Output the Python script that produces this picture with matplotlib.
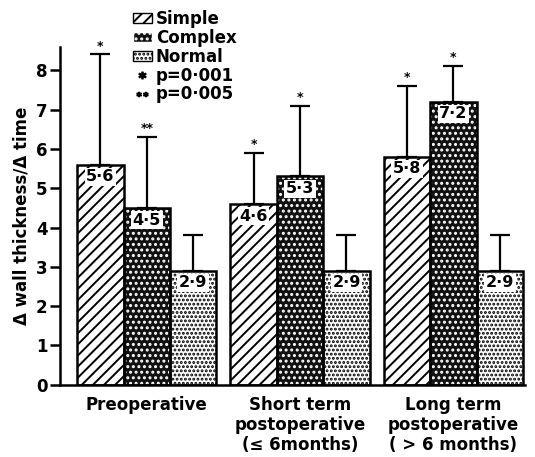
import numpy as np
import matplotlib
matplotlib.use('Agg')
import matplotlib.pyplot as plt
from matplotlib.patches import Patch
from matplotlib.lines import Line2D

# Data
groups = ['Preoperative', 'Short term\npostoperative\n(≤ 6months)', 'Long term\npostoperative\n( > 6 months)']
series = ['Simple', 'Complex', 'Normal']
simple = [5.6, 4.6, 5.8]
complex_ = [4.5, 5.3, 7.2]
normal = [2.9, 2.9, 2.9]
simple_err = [2.8, 1.3, 1.8]
complex_err = [1.8, 1.8, 0.9]
normal_err = [0.9, 0.9, 0.9]
simple_sig = ['*', '*', '*']
complex_sig = ['**', '*', '*']
normal_sig = ['', '', '']
value_labels = [['5·6', '4·6', '5·8'], ['4·5', '5·3', '7·2'], ['2·9', '2·9', '2·9']]

plt.rcParams['font.family'] = 'DejaVu Sans'
plt.rcParams['font.weight'] = 'bold'
plt.rcParams['hatch.linewidth'] = 1.4

fig = plt.figure(figsize=(5.35, 4.57), dpi=100)
ax = fig.add_axes([0.112, 0.158, 0.869, 0.74])

x = np.arange(len(groups)) * 3.3
width = 1.0
styles = [
    dict(face='white', hatch='///', hcol='black'),
    dict(face='#111111', hatch='...', hcol='white'),
    dict(face='white', hatch='....', hcol='black'),
]
values = [simple, complex_, normal]
errs = [simple_err, complex_err, normal_err]
sigs = [simple_sig, complex_sig, normal_sig]

for i, (vals, err, sig, st) in enumerate(zip(values, errs, sigs, styles)):
    pos = x + (i - 1) * width
    # error bars (upward only)
    ax.errorbar(pos, vals, yerr=[np.zeros(len(vals)), err], fmt='none',
                ecolor='black', elinewidth=1.6, capsize=7, capthick=1.6, zorder=1)
    # hatched fill
    ax.bar(pos, vals, width, color=st['face'], hatch=st['hatch'],
           edgecolor=st['hcol'], linewidth=0, zorder=2)
    # outline
    ax.bar(pos, vals, width, color='none', edgecolor='black', linewidth=1.8, zorder=3)
    for p, v, e, s, lab in zip(pos, vals, err, sig, value_labels[i]):
        ax.text(p, v - 0.12, lab, ha='center', va='top', fontsize=11.5,
                fontweight='bold', zorder=4,
                bbox=dict(boxstyle='square,pad=0.1', facecolor='white', edgecolor='none'))
        if s:
            ax.text(p, v + e + 0.05, s, ha='center', va='bottom', fontsize=9,
                    fontweight='bold')

ax.set_xlim(-1.87, 8.14)
ax.set_ylim(0, 8.6)
ax.set_yticks(range(0, 9))
ax.set_xticks(x)
ax.set_xticklabels(groups, fontsize=12, fontweight='bold', linespacing=1.15)
ax.tick_params(axis='x', length=0, pad=8)
ax.tick_params(axis='y', direction='out', length=7, width=1.8, labelsize=12, pad=2)
for lab in ax.get_yticklabels():
    lab.set_fontweight('bold')
ax.spines['top'].set_visible(False)
ax.spines['right'].set_visible(False)
ax.spines['left'].set_linewidth(1.8)
ax.spines['bottom'].set_linewidth(1.8)
ax.set_ylabel('Δ wall thickness/Δ time', fontsize=12, fontweight='bold', labelpad=4)

handles = [
    Patch(facecolor='white', edgecolor='black', hatch='///'),
    Patch(facecolor='#111111', edgecolor='white', hatch='...'),
    Patch(facecolor='white', edgecolor='black', hatch='....'),
    Line2D([], [], linestyle='none', marker='$*$', color='black', markersize=5),
    Line2D([], [], linestyle='none', marker='$**$', color='black', markersize=8),
]
labels = ['Simple', 'Complex', 'Normal', 'p=0·001', 'p=0·005']
fig.legend(handles, labels, loc='upper left', bbox_to_anchor=(0.249, 0.978),
           frameon=False, handlelength=1.1, handleheight=0.55,
           handletextpad=0.25, labelspacing=0.05, borderpad=0, borderaxespad=0,
           prop={'weight': 'bold', 'size': 12})

fig.savefig('out.png', dpi=100)
